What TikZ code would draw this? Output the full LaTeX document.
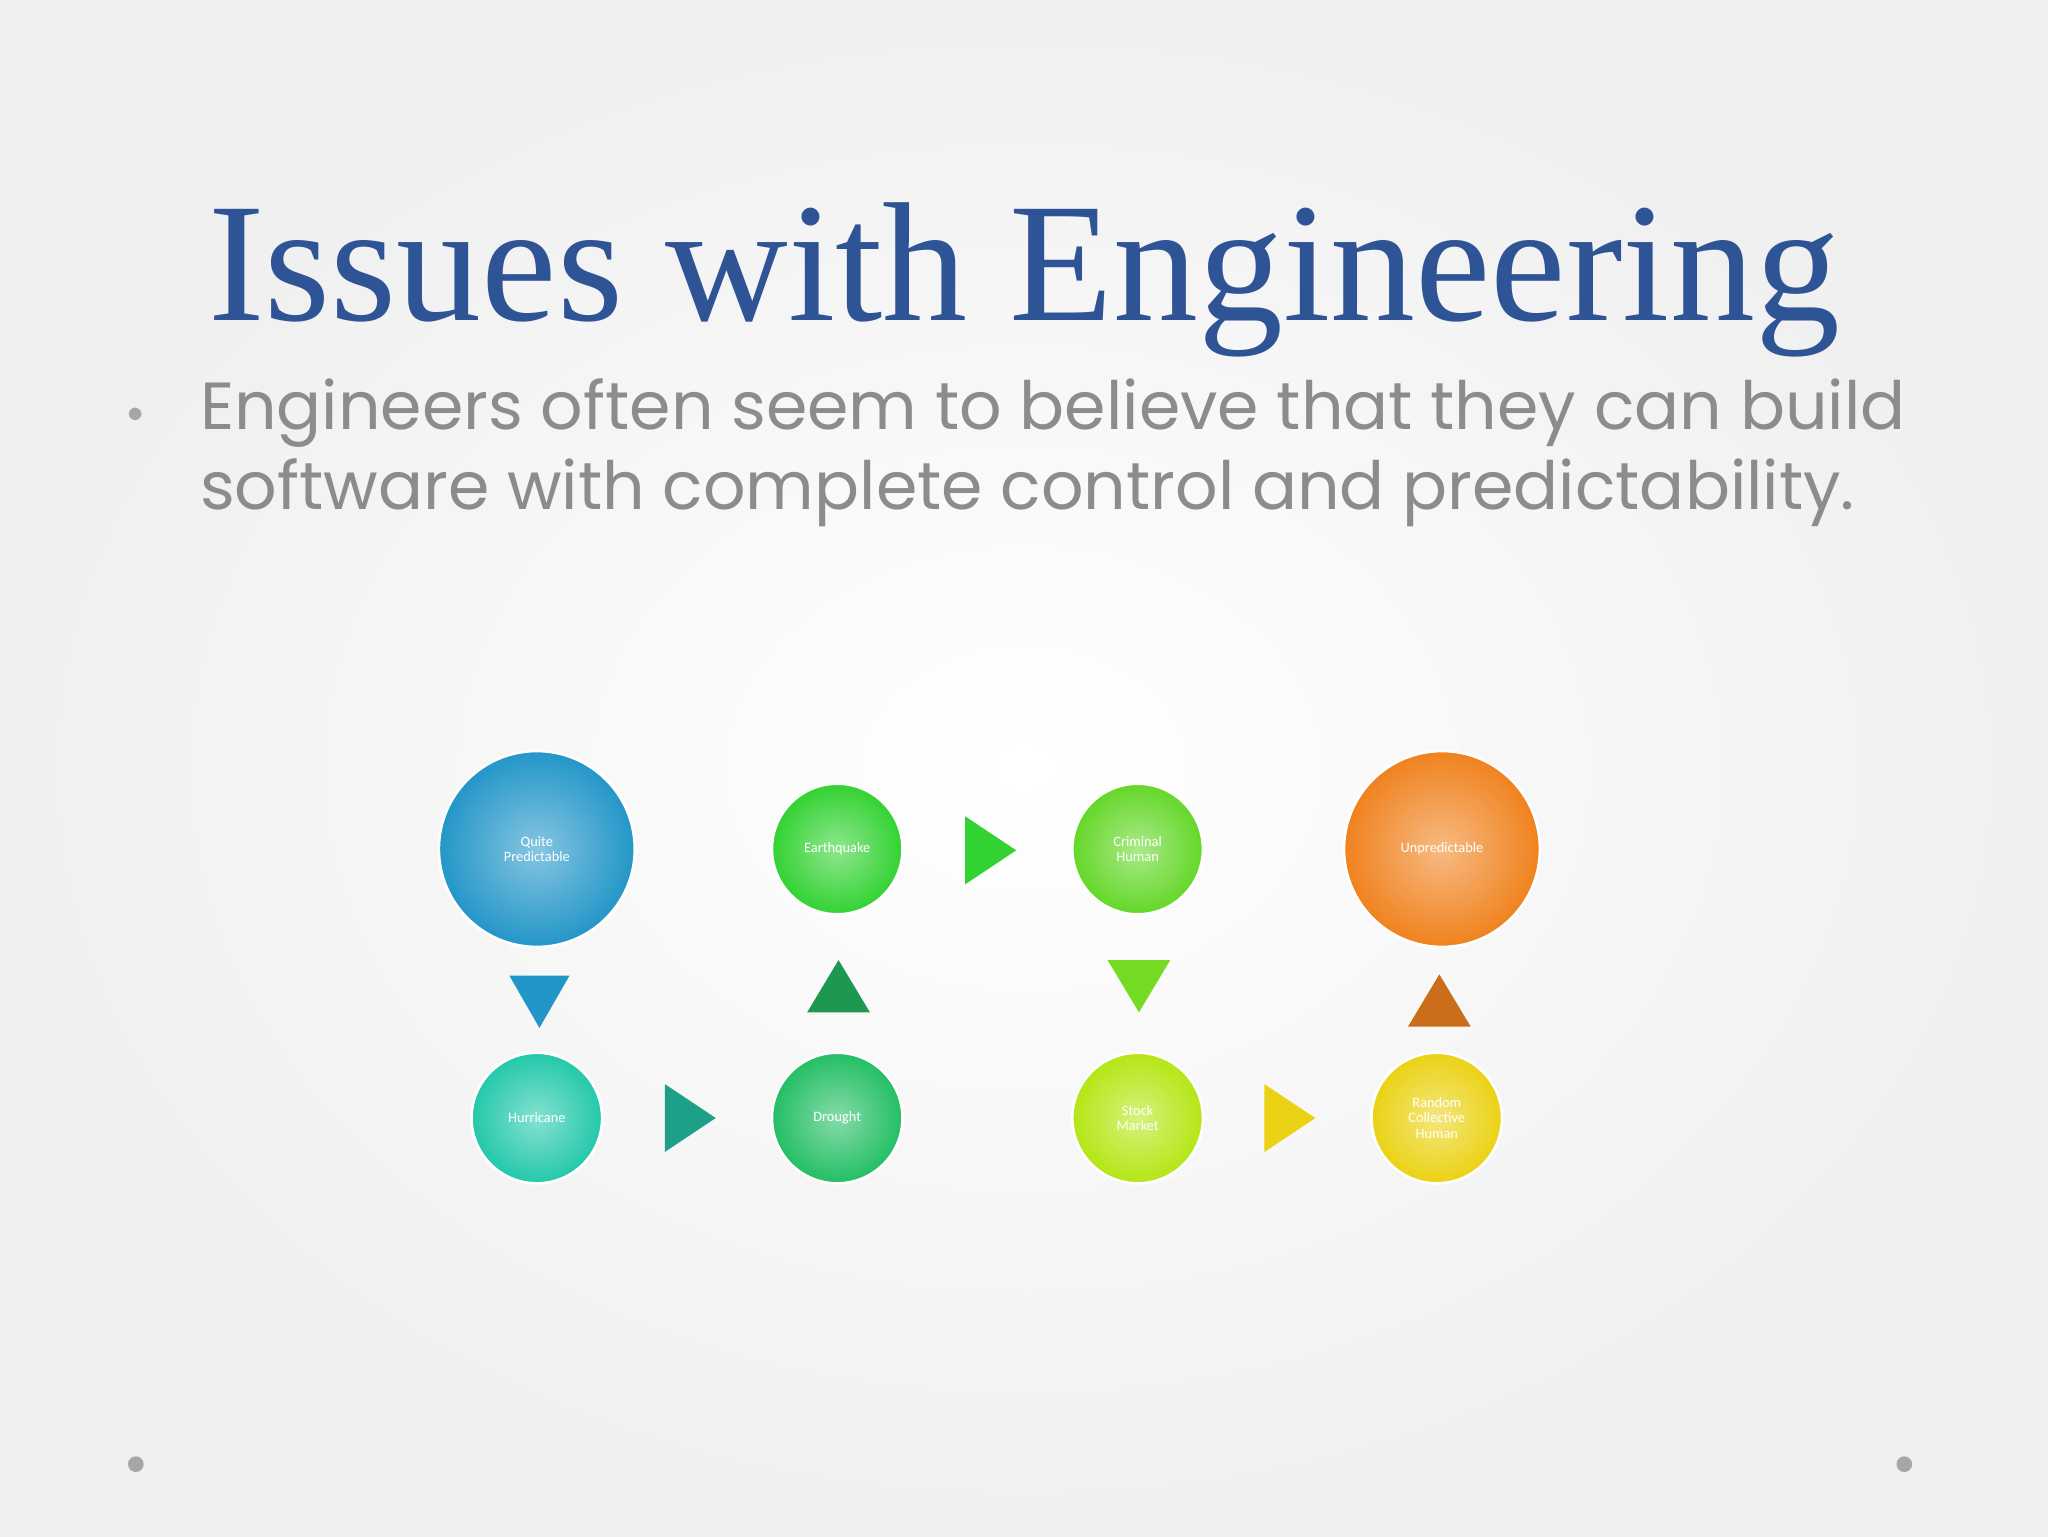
\documentclass[tikz,border=0pt]{standalone}
\usepackage{fontspec}
\setmainfont{Liberation Serif}
\newfontfamily\bodyfont{Poppins}
\newfontfamily\smallfont{Carlito}
\begin{document}
\begin{tikzpicture}[x=1pt,y=-1pt,
  ball/.style 2 args={circle,minimum size=#1,draw=white,line width=2pt,text=white,align=center,font=\smallfont\fontsize{11}{12}\selectfont,inner color=#2!55!white,outer color=#2},
  tri/.style={draw=none}]
\shade[inner color=white,outer color=gray!12] (0,0) rectangle (1568,1176);
\useasboundingbox (0,0) rectangle (1568,1176);
\node[font=\fontsize{130}{130}\selectfont,anchor=base,text={rgb,255:red,47;green,84;blue,150}] (title) at (784,245) {Issues with Engineering};
\node[anchor=north west,text=gray!90,font=\bodyfont\fontsize{51}{61}\selectfont,align=left,inner sep=0pt] (bt) at (153,290) {Engineers often seem to believe that they can build\\software with complete control and predictability.};
\node[text=gray!70,font=\fontsize{50}{50}\selectfont] (bul) at (104,318) {$\bullet$};
\fill[gray!70] (104,1121) circle (6) (1458,1121) circle (6);
\definecolor{cA}{RGB}{35,150,200}\definecolor{cB}{RGB}{35,200,170}\definecolor{cC}{RGB}{35,190,100}
\definecolor{cD}{RGB}{50,210,50}\definecolor{cE}{RGB}{100,215,40}\definecolor{cF}{RGB}{180,230,20}
\definecolor{cG}{RGB}{235,210,20}\definecolor{cH}{RGB}{240,130,30}
\node[ball={150pt}{cA}] (qp) at (411,650) {Quite\\Predictable};
\node[ball={100pt}{cB}] (hu) at (411,856) {Hurricane};
\node[ball={100pt}{cC}] (dr) at (641,856) {Drought};
\node[ball={100pt}{cD}] (eq) at (641,650) {Earthquake};
\node[ball={100pt}{cE}] (ch) at (871,650) {Criminal\\Human};
\node[ball={100pt}{cF}] (sm) at (871,856) {Stock\\Market};
\node[ball={100pt}{cG}] (rc) at (1100,856) {Random\\Collective\\Human};
\node[ball={150pt}{cH}] (un) at (1104,650) {Unpredictable};
\fill[cA] (390,747) -- (436,747) -- (413,787) -- cycle;
\fill[cB!80!black] (509,830) -- (548,856) -- (509,882) -- cycle;
\fill[cC!80!black] (618,775) -- (666,775) -- (642,735) -- cycle;
\fill[cD] (739,625) -- (778,651) -- (739,677) -- cycle;
\fill[cE!90!yellow] (848,735) -- (896,735) -- (872,775) -- cycle;
\fill[cG] (968,830) -- (1007,856) -- (968,882) -- cycle;
\fill[cH!85!black] (1078,786) -- (1126,786) -- (1102,746) -- cycle;
\end{tikzpicture}
\end{document}
